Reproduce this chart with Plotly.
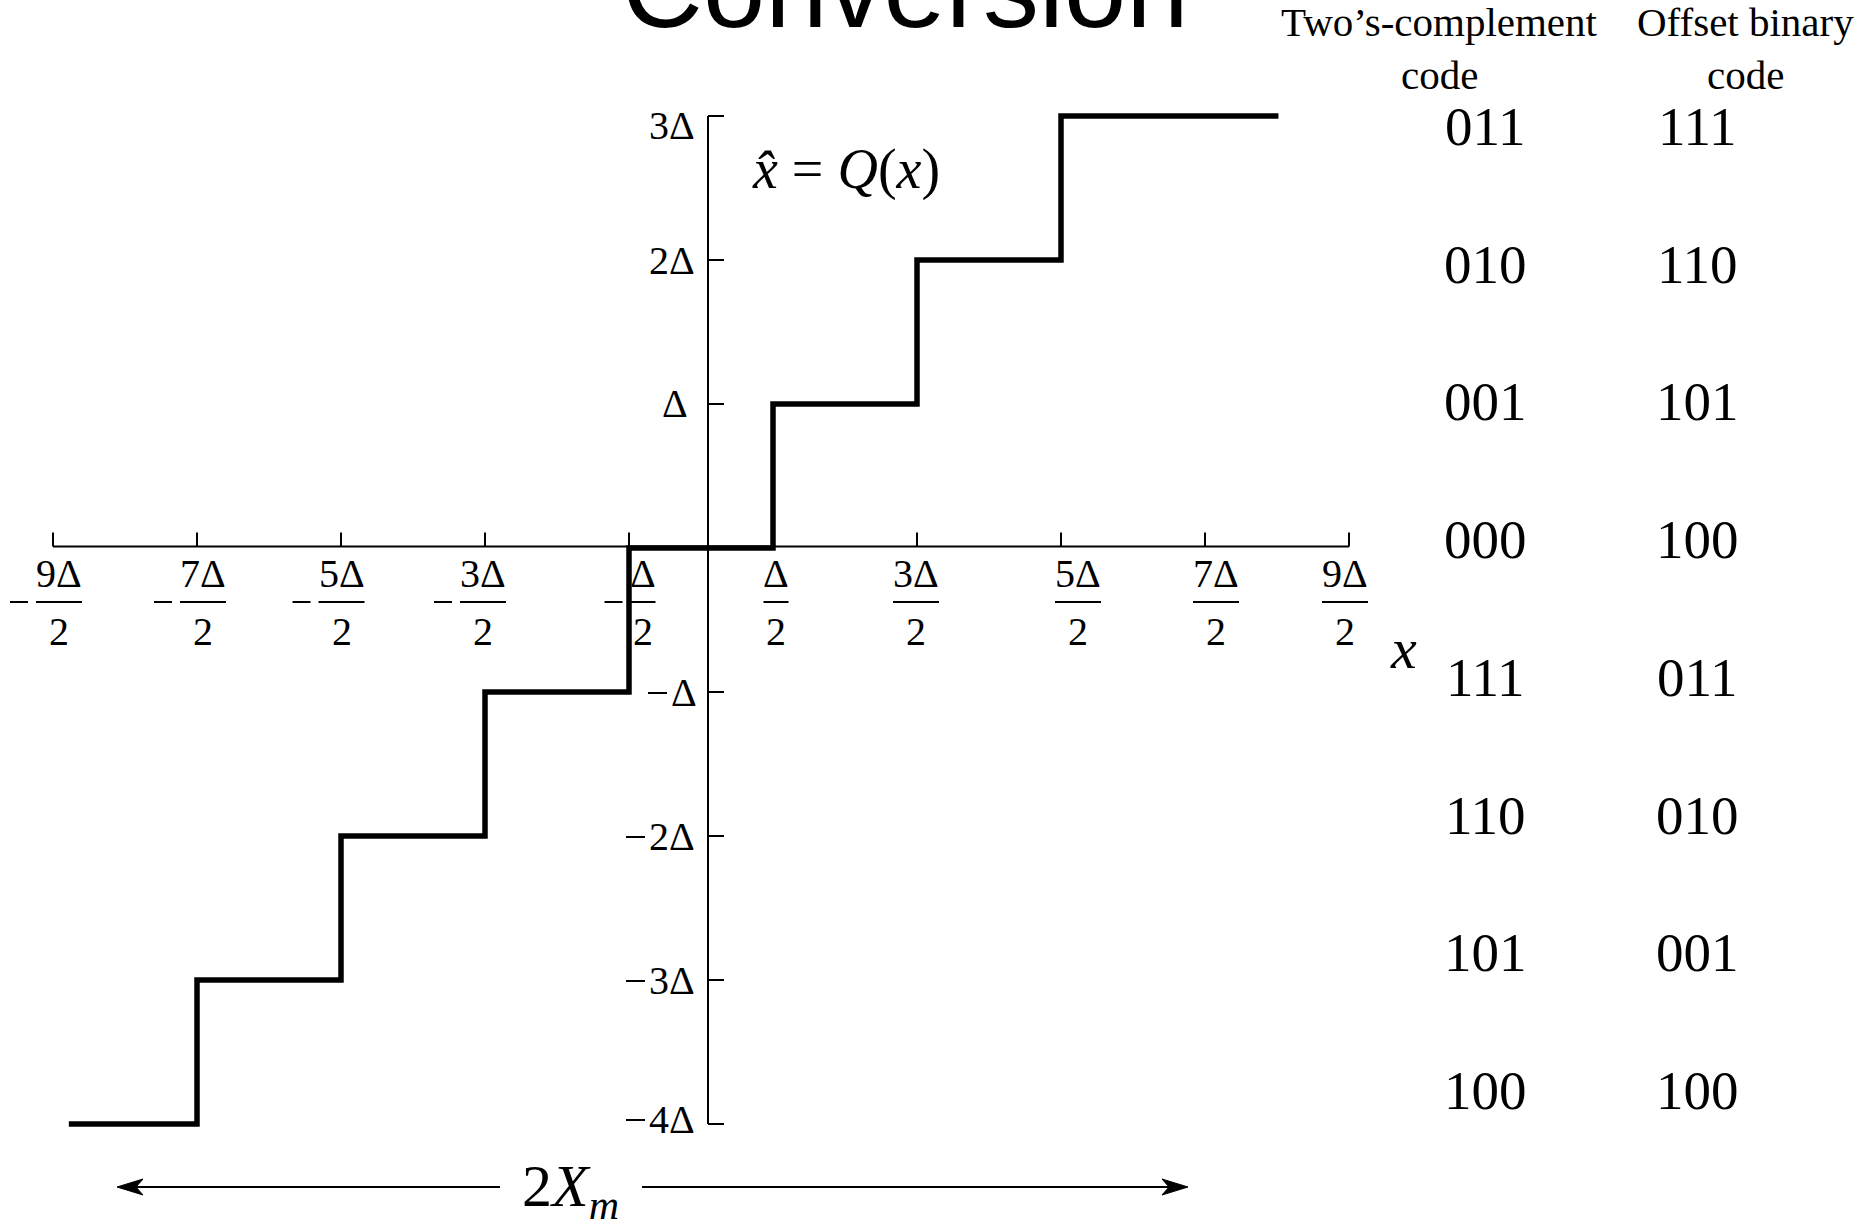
import plotly.graph_objects as go

# ---------------- data ----------------
levels = [-4, -3, -2, -1, 0, 1, 2, 3]                      # output levels (units of Δ)
decision_points = [-3.5, -2.5, -1.5, -0.5, 0.5, 1.5, 2.5]   # input values where the output steps
x_start = -4.39
x_end = 4.01
x_tick_vals = [-4.5, -3.5, -2.5, -1.5, -0.5, 0.5, 1.5, 2.5, 3.5, 4.5]
x_tick_nums = ["9Δ", "7Δ", "5Δ", "3Δ", "Δ", "Δ", "3Δ", "5Δ", "7Δ", "9Δ"]
x_tick_den = "2"
y_tick_vals = [3, 2, 1, -1, -2, -3, -4]
y_tick_labels = ["3Δ", "2Δ", "Δ", "−Δ", "−2Δ", "−3Δ", "−4Δ"]
twos_complement = ["011", "010", "001", "000", "111", "110", "101", "100"]
offset_binary = ["111", "110", "101", "100", "011", "010", "001", "100"]
header_twos = ["Two’s-complement", "code"]
header_offset = ["Offset binary", "code"]
title_text = "Conversion"
curve_label = "<i>x̂</i> = <i>Q</i>(<i>x</i>)"
x_axis_label = "<i>x</i>"
range_label = "2<i>X</i><sub><i>m</i></sub>"

# ---------------- geometry / style (pixels) ----------------
W, H = 1864, 1225
PX = 144.0    # pixels per Δ
X0 = 701.0    # pixel column of x = 0
Y0 = 548.0    # pixel row of y = 0
SERIF = "Liberation Serif, Times New Roman, serif"
SANS = "Liberation Sans, Arial, sans-serif"


def fx(px):
    return (px - X0) / PX


def fy(py):
    return (Y0 - py) / PX


fig = go.Figure()

# staircase built from the levels and decision points
sx, sy = [x_start], [levels[0]]
for d, lo, hi in zip(decision_points, levels[:-1], levels[1:]):
    sx += [d, d]
    sy += [lo, hi]
sx.append(x_end)
sy.append(levels[-1])
fig.add_trace(go.Scatter(x=sx, y=sy, mode="lines",
                         line=dict(color="black", width=5.5),
                         hoverinfo="skip", showlegend=False))

shapes = []
annotations = []


def line(x0, y0, x1, y1, w=2):
    shapes.append(dict(type="line", xref="x", yref="y", x0=x0, y0=y0, x1=x1, y1=y1,
                       line=dict(color="black", width=w)))


def hline_px(px0, px1, py, w=2):
    line(fx(px0), fy(py), fx(px1), fy(py), w)


def text(px, py, s, size, family=SERIF, xanchor="center"):
    annotations.append(dict(x=px / W, y=1 - py / H, xref="paper", yref="paper", text=s,
                            showarrow=False, xanchor=xanchor, yanchor="middle",
                            font=dict(family=family, size=size, color="black")))


# x axis
ax_y = fy(546.5)
line(x_tick_vals[0], ax_y, x_tick_vals[-1], ax_y)
for t in x_tick_vals:
    line(t, ax_y, t, ax_y + 14 / PX)

# y axis
ax_x = fx(708)
line(ax_x, y_tick_vals[-1], ax_x, y_tick_vals[0])
for v in y_tick_vals:
    line(ax_x, v, ax_x + 16 / PX, v)

# x tick labels (fractions)
x_lab_off = [6, 6, 0.5, -2, 14, 3, -1, 17, 11, -4]
for t, num, off in zip(x_tick_vals, x_tick_nums, x_lab_off):
    cx = X0 + PX * t + off
    bw = 25 if len(num) == 1 else 46
    text(cx, 573.5, num, 40)
    text(cx, 631.5, x_tick_den, 40)
    hline_px(cx - bw / 2, cx + bw / 2, 602)
    if t < 0:
        hline_px(cx - bw / 2 - 26, cx - bw / 2 - 8, 602)

# y tick labels
y_lab_dy = {3: 9.5, -4: -5}
y_lab_right = {1: 690, -1: 699}
for v, lab in zip(y_tick_vals, y_tick_labels):
    py = Y0 - PX * v + y_lab_dy.get(v, 0)
    right = y_lab_right.get(v, 697)
    body = lab.lstrip("−")
    text(right, py, body, 40, xanchor="right")
    if lab.startswith("−"):
        tw = 25 if len(body) == 1 else 45
        left = right - tw
        hline_px(left - 26, left - 7, py + 1)

# code columns
for i, (a, b) in enumerate(zip(twos_complement, offset_binary)):
    py = 126.5 + i * 137.7
    text(1485, py, a, 55)
    text(1697, py, b, 55)

# headers
for i, (a, b) in enumerate(zip(header_twos, header_offset)):
    py = 22 + i * 53
    text(1439, py, a, 41)
    text(1745, py, b, 41)

# title (cropped at top of the image)
text(905.5, -11, title_text, 112, family=SANS)

# curve label and x axis label
text(750, 169, curve_label, 56, xanchor="left")
text(1403, 648, x_axis_label, 58)

# range arrow with 2X_m
text(520, 1190, range_label, 60, xanchor="left")
arrow_y = 1187
hline_px(130, 500, arrow_y)
hline_px(642, 1176, arrow_y)


def arrowhead(tip_px, direction):
    L, hw, notch = 26, 8, 19
    bx = tip_px + direction * L
    nx = tip_px + direction * notch
    pts = [(tip_px, arrow_y), (bx, arrow_y - hw), (nx, arrow_y), (bx, arrow_y + hw)]
    path = "M " + " L ".join(f"{fx(p[0]):.5f},{fy(p[1]):.5f}" for p in pts) + " Z"
    shapes.append(dict(type="path", xref="x", yref="y", path=path,
                       fillcolor="black", line=dict(color="black", width=1)))


arrowhead(117, +1)
arrowhead(1188, -1)

fig.update_layout(
    width=W, height=H,
    margin=dict(l=0, r=0, t=0, b=0),
    paper_bgcolor="white", plot_bgcolor="white",
    xaxis=dict(range=[fx(0), fx(W)], visible=False, fixedrange=True),
    yaxis=dict(range=[fy(H), fy(0)], visible=False, fixedrange=True),
    shapes=shapes,
    annotations=annotations,
    showlegend=False,
)

fig.write_html("out.html", config={"displayModeBar": False})
